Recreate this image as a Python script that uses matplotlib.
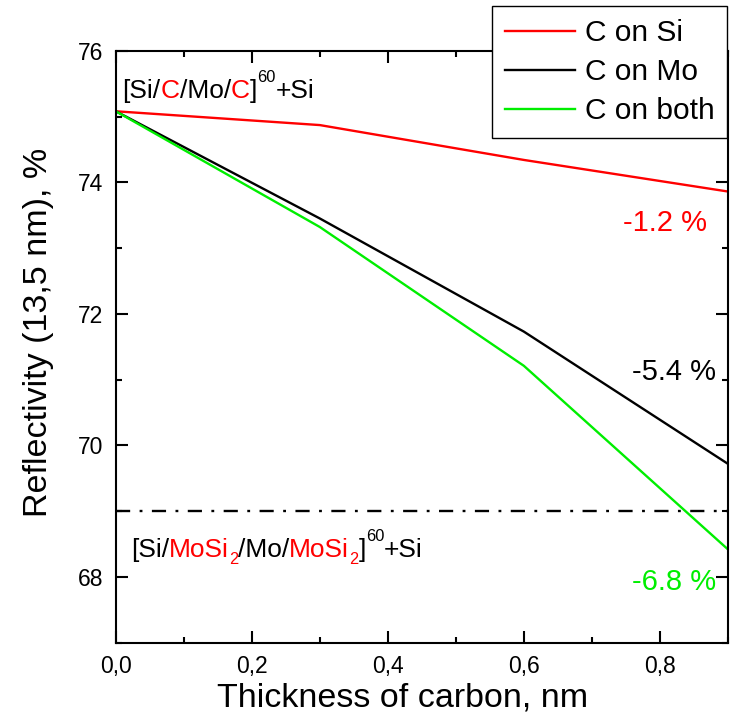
import matplotlib
matplotlib.use('Agg')
import matplotlib.pyplot as plt
from matplotlib.transforms import offset_copy
from matplotlib.ticker import MultipleLocator, FuncFormatter

plt.rcParams['font.family'] = ['Liberation Sans', 'DejaVu Sans']

# Data
thickness = [0.0, 0.3, 0.6, 0.9]
c_on_si = [75.08, 74.87, 74.34, 73.86]
c_on_mo = [75.08, 73.45, 71.73, 69.72]
c_on_both = [75.08, 73.32, 71.21, 68.42]
mosi2_level = 69.0

series_labels = ['C on Si', 'C on Mo', 'C on both']
series_colors = ['#ff0000', '#000000', '#00ee00']
drop_labels = ['-1.2 %', '-5.4 %', '-6.8 %']

fig = plt.figure(figsize=(7.33, 7.21), dpi=100)
ax = fig.add_axes([0.158, 0.1086, 0.835, 0.821])

for ys, lab, col in zip([c_on_si, c_on_mo, c_on_both], series_labels, series_colors):
    ax.plot(thickness, ys, color=col, lw=1.7, label=lab)

ax.axhline(mosi2_level, color='black', lw=1.7, linestyle=(0, (6, 4, 1.2, 4)))

ax.set_xlim(0, 0.9)
ax.set_ylim(67, 76)
ax.xaxis.set_major_locator(MultipleLocator(0.2))
ax.xaxis.set_minor_locator(MultipleLocator(0.1))
ax.yaxis.set_major_locator(MultipleLocator(2))
ax.yaxis.set_minor_locator(MultipleLocator(1))
ax.xaxis.set_major_formatter(FuncFormatter(lambda v, p: f'{v:.1f}'.replace('.', ',')))
ax.yaxis.set_major_formatter(FuncFormatter(lambda v, p: f'{v:.0f}'))

ax.tick_params(which='both', direction='in', top=True, right=True, width=1.5, labelsize=16.5, pad=9)
ax.tick_params(which='major', length=8.5)
ax.tick_params(which='minor', length=4.5)
for sp in ax.spines.values():
    sp.set_linewidth(1.5)

ax.set_xlabel('Thickness of carbon, nm', fontsize=24.5)
ax.set_ylabel('Reflectivity (13,5 nm), %', fontsize=24.5)
ax.xaxis.set_label_coords(0.469, -0.067)
ax.yaxis.set_label_coords(-0.101, 0.524)

# percentage drop labels
ax.text(0.869, 73.38, drop_labels[0], color=series_colors[0], fontsize=21, ha='right', va='center')
ax.text(0.883, 71.11, drop_labels[1], color=series_colors[1], fontsize=21, ha='right', va='center')
ax.text(0.882, 67.92, drop_labels[2], color=series_colors[2], fontsize=21, ha='right', va='center')

renderer = fig.canvas.get_renderer()


def colored_text(x, y, parts, size):
    # parts: (text, color, kind) with kind '', 'sup' or 'sub'
    dx = 0
    for s, col, kind in parts:
        fs = size
        dy = 0
        if kind == 'sup':
            fs = size * 0.62
            dy = size * 0.6
        elif kind == 'sub':
            fs = size * 0.62
            dy = -size * 0.25
        tr = offset_copy(ax.transData, fig=fig, x=dx, y=dy, units='points')
        t = ax.text(x, y, s, color=col, fontsize=fs, transform=tr, va='baseline', ha='left')
        ex = t.get_window_extent(renderer)
        dx += ex.width * 72 / fig.dpi


colored_text(0.010, 75.28, [('[Si/', 'black', ''), ('C', 'red', ''), ('/Mo/', 'black', ''),
                            ('C', 'red', ''), (']', 'black', ''), ('60', 'black', 'sup'),
                            ('+Si', 'black', '')], 19)
colored_text(0.022, 68.3, [('[Si/', 'black', ''), ('MoSi', 'red', ''), ('2', 'red', 'sub'),
                           ('/Mo/', 'black', ''), ('MoSi', 'red', ''), ('2', 'red', 'sub'),
                           (']', 'black', ''), ('60', 'black', 'sup'), ('+Si', 'black', '')], 19)

leg = ax.legend(loc='upper left', bbox_to_anchor=(491.7 / 733, 1 - 6 / 721),
                bbox_transform=fig.transFigure, fontsize=21.5, frameon=True, fancybox=False,
                edgecolor='black', framealpha=1, handlelength=2.34, handletextpad=0.33,
                labelspacing=0.37, borderpad=0.44, borderaxespad=0)
leg.get_frame().set_linewidth(1.0)

fig.savefig('out.png', dpi=100)
